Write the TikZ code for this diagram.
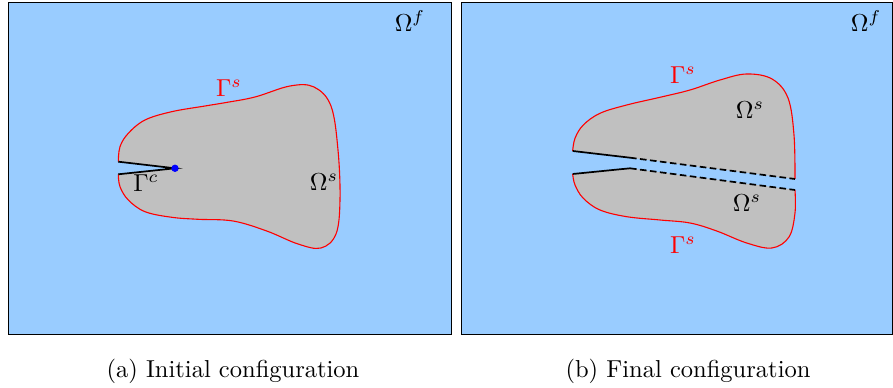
\documentclass[tikz,border=0pt]{standalone}
\usepackage{amsmath}
\definecolor{fluidblue}{RGB}{153,204,255}
\definecolor{solidgray}{RGB}{192,192,192}
\tikzset{
  panel/.style={draw=black, line width=0.4pt, fill=fluidblue},
  bdry/.style={draw=red, line width=0.45pt},
  crack/.style={draw=black, line width=0.7pt},
  crackd/.style={draw=black, line width=0.7pt, dash pattern=on 2.7pt off 1.4pt},
  lbl/.style={inner sep=0pt},
}
\begin{document}
\begin{tikzpicture}[x=0.408pt,y=-0.408pt]
\useasboundingbox (0,0) rectangle (893,388);
% panels
\path[panel] (8,3) rectangle (451,334);
\path[panel] (461,3) rectangle (892,334);
\node[lbl] (of1) at (410,21) {$\Omega^f$};
\node[lbl] (of2) at (866,21) {$\Omega^f$};

% left solid
\def\leftcurve{(118.3,174.3) (120,186.7) (128.3,200) (145,211.7) (171.7,217.3) (198,219.3) (233,221) (266.7,231) (298,244) (321,248) (336,234) (340,200) (338,150) (331,106) (314,87) (290,86) (255,97) (225,102.7) (205,106) (171.7,111.7) (145,120) (128.3,133.3) (120,146.7) (118.3,161.7)}
\fill[solidgray] plot[smooth, tension=0.6] coordinates {\leftcurve} -- (175,168.3) -- cycle;
\draw[bdry] plot[smooth, tension=0.6] coordinates {\leftcurve};
\coordinate (cu) at (118.3,161.7);
\coordinate (cl) at (118.3,174.3);
\coordinate (tipc) at (175,168.3);
\draw[crack] (cu) -- (tipc) -- (cl);
\node[circle, fill=blue, inner sep=0pt, minimum size=3pt] (tip) at (tipc) {};
\node[lbl, text=red] (gs1) at (229,88) {$\Gamma^s$};
\node[lbl] (gc) at (146,183) {$\Gamma^c$};
\node[lbl] (os1) at (324,182) {$\Omega^s$};

% right solid
\def\uppercurve{(572.7,151) (575,138.3) (583.3,125) (600,113.3) (626.7,105) (660,97.3) (690,90) (720,80) (746.7,74) (772,79) (788,98) (794,135) (795,179)}
\def\lowercurve{(795,190) (795,213) (789,237) (772,248) (746.7,243) (716.7,231) (690,223) (660,220) (626.7,216.7) (600,210) (583.3,198.3) (575,185) (572.7,174)}
\fill[solidgray] plot[smooth, tension=0.6] coordinates {\uppercurve} -- (630,157.7) -- cycle;
\draw[bdry] plot[smooth, tension=0.6] coordinates {\uppercurve};
\fill[solidgray] plot[smooth, tension=0.6] coordinates {\lowercurve} -- (630,168.3) -- cycle;
\draw[bdry] plot[smooth, tension=0.6] coordinates {\lowercurve};
\coordinate (ua) at (572.7,151);
\coordinate (ub) at (630,157.7);
\coordinate (uc) at (795,179);
\coordinate (la) at (572.7,174);
\coordinate (lb) at (630,168.3);
\coordinate (lc) at (795,190);
\draw[crack] (ua) -- (ub);
\draw[crackd] (ub) -- (uc);
\draw[crack] (la) -- (lb);
\draw[crackd] (lb) -- (lc);
\node[lbl, text=red] (gs2) at (683,75) {$\Gamma^s$};
\node[lbl, text=red] (gs3) at (683,245) {$\Gamma^s$};
\node[lbl] (os2) at (750,110) {$\Omega^s$};
\node[lbl] (os3) at (747,203) {$\Omega^s$};

% captions
\node[lbl] (capa) at (233,371) {(a) Initial configuration};
\node[lbl] (capb) at (688,371) {(b) Final configuration};
\end{tikzpicture}
\end{document}
